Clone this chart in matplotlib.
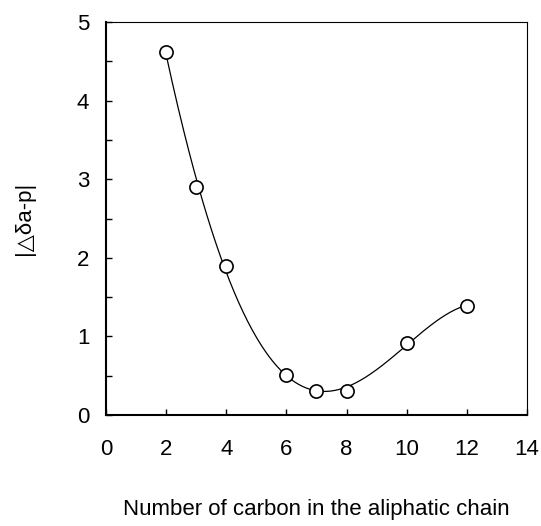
import numpy as np
import matplotlib.pyplot as plt
from matplotlib.ticker import MultipleLocator

carbons = [2, 3, 4, 6, 7, 8, 10, 12]
delta = [4.62, 2.9, 1.9, 0.51, 0.31, 0.31, 0.92, 1.39]

plt.rcParams['font.family'] = ['Liberation Sans', 'DejaVu Sans']

fig = plt.figure(figsize=(5.41, 5.26), dpi=100)
ax = fig.add_axes([0.196, 0.211, 0.778, 0.747])

# smooth fitted trend line
coef = np.polyfit(carbons, delta, 4)
xs = np.linspace(min(carbons), max(carbons), 200)
ax.plot(xs, np.polyval(coef, xs), color='black', lw=0.9)
ax.plot(carbons, delta, 'o', mfc='white', mec='black', ms=9.5, mew=1.2)

ax.set_xlim(0, 14)
ax.set_ylim(0, 5)
ax.xaxis.set_major_locator(MultipleLocator(2))
ax.yaxis.set_major_locator(MultipleLocator(1))
ax.yaxis.set_minor_locator(MultipleLocator(0.5))
ax.tick_params(which='both', direction='in', length=4, width=1, labelsize=16)
ax.tick_params(axis='x', pad=17)
ax.tick_params(axis='y', pad=12)
for s in ax.spines.values():
    s.set_linewidth(0.8)
ax.spines['left'].set_linewidth(1.5)
ax.spines['bottom'].set_linewidth(1.5)

ax.set_xlabel('Number of carbon in the aliphatic chain', fontsize=16, labelpad=28)
ax.set_ylabel('|△δa-p|', fontsize=16, labelpad=30)

fig.savefig('out.png', dpi=100)
